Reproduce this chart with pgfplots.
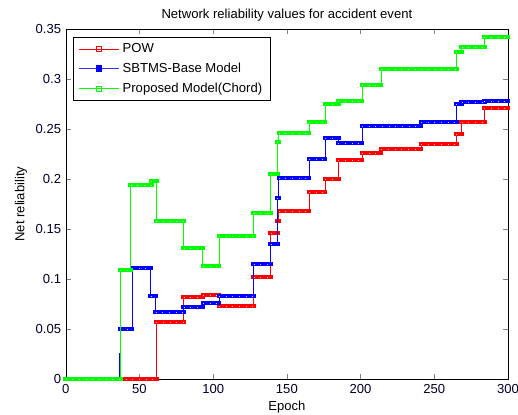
\documentclass[border=0pt]{standalone}
\usepackage{fontspec}
\setmainfont{Liberation Sans}
\usepackage{pgfplots}
\pgfplotsset{compat=1.18}
\usepackage{pgfplotstable}

\pgfplotstableread{
x y
0 0
61.5 0.057
80 0.082
93 0.084
104 0.073
127.5 0.102
139 0.146
143.5 0.158
144.5 0.168
165 0.187
176 0.200
185 0.219
201 0.226
214 0.230
241 0.235
265 0.245
268.5 0.257
284 0.271
300 0.271
}\powdata

\pgfplotstableread{
x y
0 0
36.5 0.026
37 0.050
45 0.111
57.5 0.083
61 0.067
80 0.072
93 0.076
104 0.083
127.5 0.115
139 0.135
143.5 0.181
144.5 0.201
165 0.220
176 0.241
185 0.236
201 0.253
241 0.257
265 0.275
268.5 0.277
284 0.278
300 0.278
}\sbtmsdata

\pgfplotstableread{
x y
0 0
37 0.109
44 0.194
58 0.198
61.5 0.158
80 0.131
93 0.113
104 0.143
127.5 0.166
139 0.205
143.5 0.237
144.5 0.246
165 0.257
176 0.275
185 0.278
201 0.294
214 0.310
265 0.327
268.5 0.332
284 0.342
300 0.342
}\chorddata

\definecolor{mred}{RGB}{255,0,0}
\definecolor{mblue}{RGB}{0,0,255}
\definecolor{mgreen}{RGB}{0,255,0}

\begin{document}
\begin{tikzpicture}
\useasboundingbox (-49.3pt,-26.25pt) rectangle (339pt,284.25pt);
\begin{axis}[
  scale only axis,
  width=331.5pt, height=262.5pt,
  xmin=0, xmax=300, ymin=0, ymax=0.35,
  xtick={0,50,100,150,200,250,300},
  ytick={0,0.05,0.1,0.15,0.2,0.25,0.3,0.35},
  yticklabels={0,0.05,0.1,0.15,0.2,0.25,0.3,0.35},
  scaled y ticks=false,
  tick align=inside,
  major tick length=3.6pt,
  clip=false,
  /pgf/number format/assume math mode=true,
  every tick label/.append style={font=\fontsize{9.8}{11}\selectfont, text=black!85!blue},
  every axis title shift=0pt,
  title={Network reliability values for accident event},
  title style={at={([yshift=10.5pt]axis description cs:0.5,1)}, anchor=center, font=\fontsize{9.8}{11}\selectfont},
  xlabel={Epoch},
  xlabel style={at={([yshift=-21pt]axis description cs:0.5,0)}, anchor=center, font=\fontsize{9.8}{11}\selectfont},
  ylabel={Net reliability},
  ylabel style={at={([xshift=-33.5pt]axis description cs:0,0.5)}, anchor=center, font=\fontsize{9.8}{11}\selectfont},
  legend cell align=left,
  legend image code/.code={\draw[mark repeat=2,mark phase=2,#1] plot coordinates {(0pt,0pt) (15pt,0pt) (30pt,0pt)};},
  legend style={at={(axis description cs:0,1)}, anchor=north west, xshift=5.25pt, yshift=-6.2pt,
    draw=black, font=\fontsize{9.8}{11}\selectfont, row sep=2.2pt, inner xsep=4pt, inner ysep=2.5pt},
]
\addlegendimage{mred, line width=0.5pt, mark=square, mark size=1.8pt, mark options={solid}}
\addlegendentry{POW}
\addlegendimage{mblue!80!white, line width=1.2pt, mark=square*, mark size=1.8pt, mark options={fill=mblue,draw=mblue}}
\addlegendentry{SBTMS-Base Model}
\addlegendimage{mgreen, line width=0.5pt, mark=square, mark size=1.8pt}
\addlegendentry{Proposed Model(Chord)}

% POW
\addplot[const plot, mred, line width=0.6pt, forget plot] table {\powdata};
\addplot[jump mark left, mred, line width=3.4pt, line cap=rect, forget plot] table {\powdata};
\addplot[jump mark left, white, line width=0.6pt, dash pattern=on 0.6pt off 4.4pt, opacity=0.8, forget plot] table {\powdata};
% SBTMS
\addplot[const plot, mblue, line width=0.6pt, forget plot] table {\sbtmsdata};
\addplot[jump mark left, mblue, line width=3.4pt, line cap=rect, forget plot, skip coords between index={1}{2}] table {\sbtmsdata};
\addplot[jump mark left, white, line width=0.6pt, dash pattern=on 0.6pt off 4.4pt, opacity=0.8, forget plot, skip coords between index={1}{2}] table {\sbtmsdata};
% Chord
\addplot[const plot, mgreen, line width=0.6pt, forget plot] table {\chorddata};
\addplot[jump mark left, mgreen, line width=3.4pt, line cap=rect, forget plot] table {\chorddata};
\addplot[jump mark left, white, line width=0.6pt, dash pattern=on 0.6pt off 4.4pt, opacity=0.8, forget plot] table {\chorddata};
\end{axis}
\end{tikzpicture}
\end{document}
